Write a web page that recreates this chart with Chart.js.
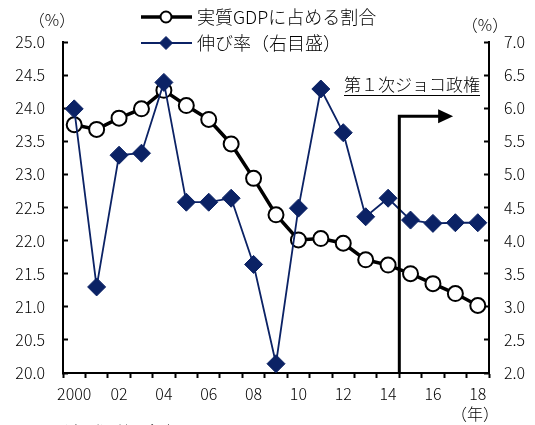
<!DOCTYPE html>
<html>
<head>
<meta charset="utf-8">
<script src="https://cdn.jsdelivr.net/npm/chart.js@4"></script>
<style>
  html, body { margin: 0; padding: 0; background: #fff; }
  #wrap { width: 535px; height: 425px; position: relative; }
</style>
</head>
<body>
<div id="wrap"><canvas id="c" width="535" height="425"></canvas></div>
<script>
// Years on the category axis and their printed labels
const years = ['2000','2001','2002','2003','2004','2005','2006','2007','2008','2009',
               '2010','2011','2012','2013','2014','2015','2016','2017','2018'];
const tickLabels = ['2000','','02','','04','','06','','08','','10','','12','','14','','16','','18'];

// Share of real GDP (%), left axis
const shareOfGdp = [23.75, 23.68, 23.85, 23.99, 24.27, 24.04, 23.83, 23.46, 22.94, 22.39,
                    22.01, 22.03, 21.96, 21.71, 21.63, 21.50, 21.35, 21.20, 21.02];
// Growth rate (%), right axis
const growthRate = [5.99, 3.30, 5.29, 5.32, 6.39, 4.58, 4.58, 4.64, 3.64, 2.14,
                    4.49, 6.29, 5.63, 4.36, 4.64, 4.31, 4.26, 4.27, 4.27];

const shareName = '実質GDPに占める割合';
const growthName = '伸び率（右目盛）';
const eraLabel = '第１次ジョコ政権';
// Start of the administration: boundary between 2014 and 2015, arrow running right
const eraStart = 14.5;
const eraArrowEnd = 16.9;
const eraTopValue = 23.88;

const NAVY = '#0b2265';
const FONT = '"Noto Sans CJK JP", "Noto Sans", sans-serif';
const W = 300;

const overlay = {
  id: 'overlay',
  afterDatasetsDraw(chart) {
    const ctx = chart.ctx;
    const xs = chart.scales.x, ys = chart.scales.y;
    const area = chart.chartArea;
    ctx.save();
    // era marker: vertical line + arrow
    const x0 = xs.getPixelForValue(eraStart);
    const yTop = ys.getPixelForValue(eraTopValue);
    const x1 = xs.getPixelForValue(eraArrowEnd);
    ctx.strokeStyle = '#000';
    ctx.lineWidth = 3;
    ctx.beginPath();
    ctx.moveTo(x0, area.bottom);
    ctx.lineTo(x0, yTop);
    ctx.lineTo(x1 - 14, yTop);
    ctx.stroke();
    ctx.fillStyle = '#000';
    ctx.beginPath();
    ctx.moveTo(x1, yTop);
    ctx.lineTo(x1 - 15, yTop - 7);
    ctx.lineTo(x1 - 15, yTop + 7);
    ctx.closePath();
    ctx.fill();

    // era label, underlined
    ctx.font = W + ' 17px ' + FONT;
    ctx.textAlign = 'right';
    ctx.textBaseline = 'middle';
    const lx = area.right - 9, ly = 85;
    ctx.fillText(eraLabel, lx, ly);
    const w = ctx.measureText(eraLabel).width;
    ctx.lineWidth = 1;
    ctx.beginPath();
    ctx.moveTo(lx - w, ly + 10.5);
    ctx.lineTo(lx, ly + 10.5);
    ctx.stroke();
    ctx.restore();
  },
  afterDraw(chart) {
    const ctx = chart.ctx;
    const area = chart.chartArea;
    const ds = chart.data.datasets;
    ctx.save();
    // legend
    const rows = [
      { d: ds[1], y: 17, lw: 3.5, r: 5.5 },
      { d: ds[0], y: 43, lw: 2, r: 6.5 }
    ];
    rows.forEach(row => {
      ctx.strokeStyle = row.d.borderColor;
      ctx.lineWidth = row.lw;
      ctx.beginPath();
      ctx.moveTo(141, row.y);
      ctx.lineTo(192, row.y);
      ctx.stroke();
      ctx.fillStyle = row.d.pointBackgroundColor;
      ctx.strokeStyle = row.d.pointBorderColor;
      ctx.lineWidth = row.d.pointBorderWidth;
      Chart.helpers.drawPoint(ctx, { pointStyle: row.d.pointStyle, radius: row.r, borderWidth: row.d.pointBorderWidth }, 166, row.y);
      ctx.fillStyle = '#000';
      ctx.font = W + ' 18px ' + FONT;
      ctx.textAlign = 'left';
      ctx.textBaseline = 'middle';
      ctx.fillText(row.d.label, 197, row.y);
    });

    // unit labels
    ctx.fillStyle = '#000';
    ctx.font = W + ' 16px ' + FONT;
    ctx.textAlign = 'center';
    ctx.textBaseline = 'middle';
    ctx.fillText('（%）', 52, 20);
    ctx.fillText('（%）', area.right - 4, 25);
    ctx.fillText('（年）', area.right - 14, 414);
    // source note, mostly cut off at the bottom edge
    ctx.textAlign = 'left';
    ctx.textBaseline = 'top';
    ctx.fillText('（出所）韓国銀行', 52, 424);
    ctx.restore();
  }
};

const tickFont = { family: FONT, size: 16, weight: W };

new Chart(document.getElementById('c'), {
  type: 'line',
  data: {
    labels: years,
    datasets: [
      {
        label: growthName,
        data: growthRate,
        yAxisID: 'y1',
        order: 0,
        borderColor: NAVY,
        borderWidth: 1.8,
        pointStyle: 'rectRot',
        pointRadius: 9,
        pointBackgroundColor: NAVY,
        pointBorderColor: NAVY,
        pointBorderWidth: 1,
        tension: 0
      },
      {
        label: shareName,
        data: shareOfGdp,
        yAxisID: 'y',
        order: 1,
        borderColor: '#000',
        borderWidth: 3.5,
        pointStyle: 'circle',
        pointRadius: 7.5,
        pointBackgroundColor: '#fff',
        pointBorderColor: '#000',
        pointBorderWidth: 2,
        tension: 0
      }
    ]
  },
  options: {
    responsive: false,
    animation: false,
    events: [],
    layout: { padding: { top: 42, left: 0, right: 0, bottom: 0 } },
    plugins: { legend: { display: false }, tooltip: { enabled: false } },
    scales: {
      x: {
        offset: true,
        grid: { offset: true, drawOnChartArea: false, tickLength: 5, tickColor: '#000', tickWidth: 2 },
        border: { color: '#000', width: 2 },
        ticks: {
          autoSkip: false, maxRotation: 0, color: '#000', font: tickFont, padding: 6,
          callback: (v, i) => tickLabels[i]
        },
        afterFit: s => { s.height = 52; }
      },
      y: {
        position: 'left',
        min: 20, max: 25,
        grid: { drawOnChartArea: false, tickLength: -5, tickColor: '#000', tickWidth: 2 },
        border: { color: '#000', width: 2 },
        ticks: { stepSize: 0.5, color: '#000', font: tickFont, padding: 23, callback: v => v.toFixed(1) },
        afterFit: s => { s.width = 63; }
      },
      y1: {
        position: 'right',
        min: 2, max: 7,
        grid: { drawOnChartArea: false, tickLength: -5, tickColor: '#000', tickWidth: 2 },
        border: { color: '#000', width: 2 },
        ticks: { stepSize: 0.5, color: '#000', font: tickFont, padding: 20, callback: v => v.toFixed(1) },
        afterFit: s => { s.width = 46; }
      }
    }
  },
  plugins: [overlay]
});
</script>
</body>
</html>
